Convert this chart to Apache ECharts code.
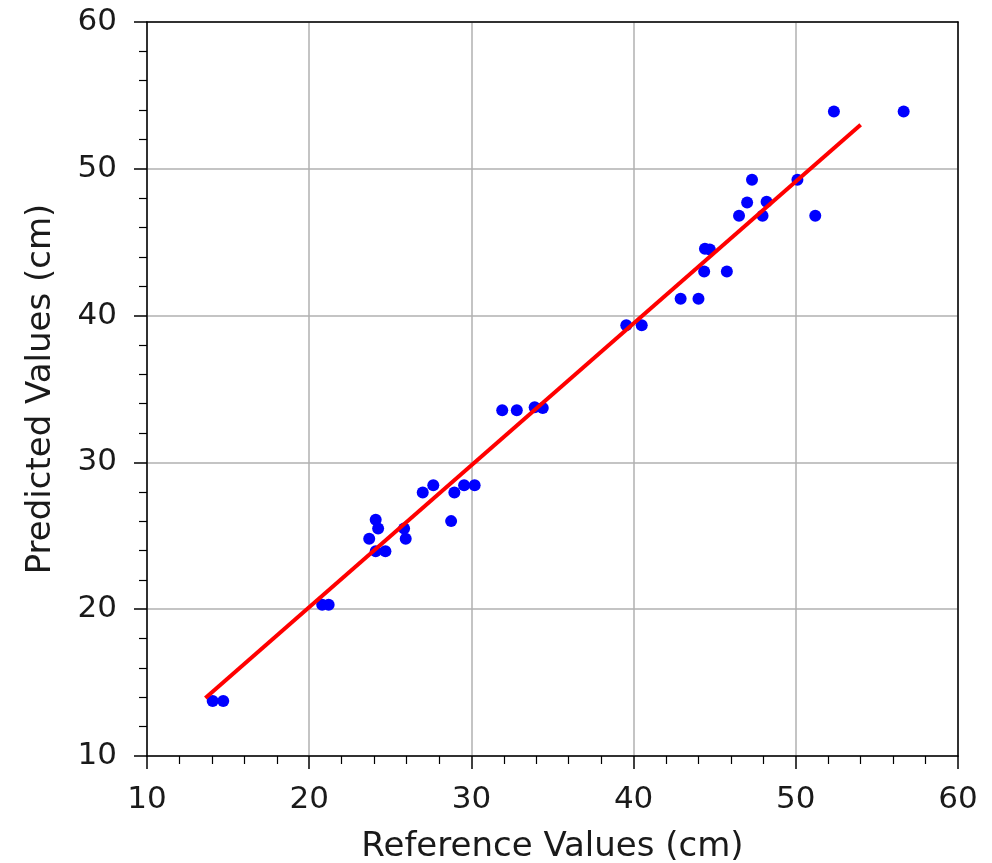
<!DOCTYPE html>
<html style="height: 100%">
<head>
    <meta charset="utf-8" />
    <script src="https://cdn.jsdelivr.net/npm/echarts@6/dist/echarts.min.js"></script>
</head>
<body style="height: 100%; margin: 0; background: #fff">
    <div id="container" style="width: 992px; height: 863px;"></div>
    <script type="text/javascript">
        // reference (x) and predicted (y) values
        const refValues = [14.05, 14.7, 20.8, 21.2, 23.7, 24.1, 24.25, 24.1, 24.7, 25.85, 25.95,
            27.0, 27.65, 28.75, 28.95, 29.55, 30.2, 31.9, 32.8, 33.9, 34.4,
            39.55, 40.5, 42.9, 44.0, 44.35, 45.75, 44.4, 44.7, 46.5, 47.95, 51.2,
            47.0, 48.2, 47.3, 50.1, 52.35, 56.65];
        const predValues = [13.75, 13.75, 20.3, 20.3, 24.8, 26.1, 25.5, 23.95, 23.95, 25.5, 24.8,
            27.95, 28.45, 26.0, 27.95, 28.45, 28.45, 33.55, 33.55, 33.75, 33.7,
            39.35, 39.35, 41.15, 41.15, 43.0, 43.0, 44.55, 44.5, 46.8, 46.8, 46.8,
            47.7, 47.75, 49.25, 49.25, 53.9, 53.9];
        // fitted line end points
        const fitX = [13.6, 54.0];
        const fitY = [13.95, 53.0];
        const xTicks = [10, 20, 30, 40, 50, 60];
        const yTicks = [10, 20, 30, 40, 50, 60];

        const points = refValues.map(function (v, i) { return [v, predValues[i]]; });
        const fitLine = fitX.map(function (v, i) { return [v, fitY[i]]; });

        var dom = document.getElementById('container');
        var myChart = echarts.init(dom, null, { renderer: 'canvas' });

        const tickFont = {
            fontFamily: 'DejaVu Sans',
            fontSize: 31,
            color: '#1a1a1a'
        };
        const nameFont = {
            fontFamily: 'DejaVu Sans',
            fontSize: 34,
            color: '#1a1a1a'
        };
        const blackLine = { color: '#000', width: 1.5 };

        // top and right spines: plain lines, nothing else
        function spine(position) {
            return {
                type: 'value',
                position: position,
                min: xTicks[0],
                max: xTicks[xTicks.length - 1],
                axisLine: { show: true, onZero: false, lineStyle: blackLine },
                axisTick: { show: false },
                axisLabel: { show: false },
                splitLine: { show: false }
            };
        }

        var option = {
            backgroundColor: '#fff',
            animation: false,
            grid: {
                left: 147,
                right: 34,
                top: 22,
                bottom: 107,
                containLabel: false,
                outerBoundsMode: 'none'
            },
            xAxis: [{
                type: 'value',
                position: 'bottom',
                min: xTicks[0],
                max: xTicks[xTicks.length - 1],
                interval: 10,
                name: 'Reference Values (cm)',
                nameLocation: 'middle',
                nameGap: 74,
                nameTextStyle: nameFont,
                axisLine: { show: true, onZero: false, lineStyle: blackLine },
                axisTick: { show: true, inside: false, length: 13, lineStyle: blackLine },
                minorTick: { show: true, splitNumber: 5, length: 8, lineStyle: { color: '#000', width: 1.2 } },
                axisLabel: Object.assign({ margin: 28 }, tickFont),
                splitLine: { show: true, lineStyle: { color: '#b0b0b0', width: 1.5 } }
            }, spine('top')],
            yAxis: [{
                type: 'value',
                position: 'left',
                min: yTicks[0],
                max: yTicks[yTicks.length - 1],
                interval: 10,
                name: 'Predicted Values (cm)',
                nameLocation: 'middle',
                nameGap: 89,
                nameTextStyle: nameFont,
                axisLine: { show: true, onZero: false, lineStyle: blackLine },
                axisTick: { show: true, inside: false, length: 13, lineStyle: blackLine },
                minorTick: { show: true, splitNumber: 5, length: 8, lineStyle: { color: '#000', width: 1.2 } },
                axisLabel: Object.assign({ margin: 30 }, tickFont),
                splitLine: { show: true, lineStyle: { color: '#b0b0b0', width: 1.5 } }
            }, spine('right')],
            series: [
                {
                    type: 'scatter',
                    data: points,
                    symbol: 'circle',
                    symbolSize: 12,
                    itemStyle: { color: '#0000ff', opacity: 1 },
                    z: 2
                },
                {
                    type: 'line',
                    data: fitLine,
                    showSymbol: false,
                    symbol: 'none',
                    lineStyle: { color: '#ff0000', width: 4 },
                    z: 3
                }
            ]
        };

        myChart.setOption(option);
        window.addEventListener('resize', myChart.resize);
    </script>
</body>
</html>
